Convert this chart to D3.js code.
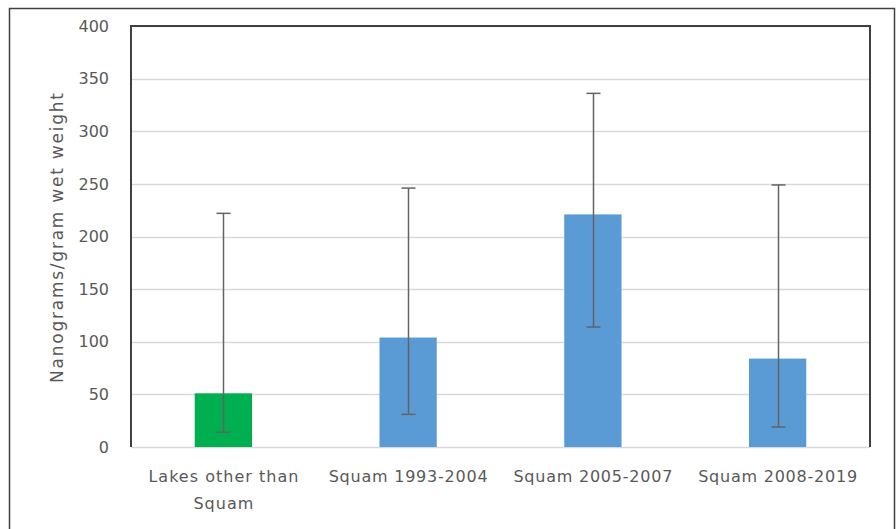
<!DOCTYPE html>
<html>
<head>
<meta charset="utf-8">
<script src="https://cdn.jsdelivr.net/npm/d3@7"></script>
<style>
    body { margin: 0; background: #fff; }
    #chart { font-family: "DejaVu Sans", sans-serif; }
</style>
</head>
<body>
<div id="chart"></div>
<script>
    var categories = ["Lakes other than Squam", "Squam 1993-2004", "Squam 2005-2007", "Squam 2008-2019"];
    var meanValues = [51, 104, 221, 84];
    var errLow = [14, 31, 114, 19];
    var errHigh = [222, 246, 336, 249];
    var barColors = ["#00B050", "#5B9BD5", "#5B9BD5", "#5B9BD5"];
    var yTicks = [0, 50, 100, 150, 200, 250, 300, 350, 400];

    var W = 896, H = 529;
    var margin = { top: 26, right: 26, bottom: 82, left: 131 },
        width = W - margin.left - margin.right,
        height = H - margin.top - margin.bottom;

    var svg = d3.select("#chart").append("svg")
        .attr("width", W)
        .attr("height", H);

    // outer frame
    svg.append("rect")
        .attr("x", 9.5).attr("y", 8.5)
        .attr("width", 885).attr("height", 530)
        .attr("fill", "none")
        .attr("stroke", "#404040")
        .attr("stroke-width", 1.5);

    var g = svg.append("g")
        .attr("transform", "translate(" + margin.left + "," + margin.top + ")");

    var xScale = d3.scaleBand()
        .domain(categories)
        .range([0, width])
        .paddingInner(0.69)
        .paddingOuter(0.345);

    var yScale = d3.scaleLinear()
        .domain([0, 400])
        .range([height, 0]);

    // gridlines
    g.append("g")
        .selectAll("line")
        .data(yTicks)
        .enter()
        .append("line")
        .attr("x1", 0)
        .attr("x2", width)
        .attr("y1", function(d) { return Math.round(yScale(d)) + 0.5; })
        .attr("y2", function(d) { return Math.round(yScale(d)) + 0.5; })
        .style("stroke", "#D9D9D9")
        .style("stroke-width", "1.5px");

    var yAxis = d3.axisLeft(yScale)
        .tickValues(yTicks)
        .tickSize(0)
        .tickPadding(22);

    var yG = g.append("g").call(yAxis);
    yG.select(".domain").remove();
    yG.selectAll("text")
        .style("font-size", "16px")
        .style("fill", "#595959")
        .style("font-family", "'DejaVu Sans', sans-serif");

    // bars
    g.selectAll(".bar")
        .data(categories)
        .enter()
        .append("rect")
        .attr("class", "bar")
        .attr("x", function(d) { return xScale(d); })
        .attr("width", xScale.bandwidth())
        .attr("y", function(d, i) { return yScale(meanValues[i]); })
        .attr("height", function(d, i) { return height - yScale(meanValues[i]); })
        .attr("fill", function(d, i) { return barColors[i]; });

    // error bars
    var errG = g.append("g")
        .style("stroke", "#636363")
        .style("stroke-width", "1.5px");
    categories.forEach(function(c, i) {
        var cx = Math.round(xScale(c) + xScale.bandwidth() / 2) + 0.5;
        errG.append("line")
            .attr("x1", cx).attr("x2", cx)
            .attr("y1", yScale(errLow[i])).attr("y2", yScale(errHigh[i]));
        [errLow[i], errHigh[i]].forEach(function(v) {
            errG.append("line")
                .attr("x1", cx - 7).attr("x2", cx + 7)
                .attr("y1", yScale(v)).attr("y2", yScale(v));
        });
    });

    // plot frame: dark left, top, right
    g.append("path")
        .attr("d", "M0," + height + "V0H" + width + "V" + height)
        .attr("fill", "none")
        .style("stroke", "#404040")
        .style("stroke-width", "2px");

    // x labels
    var xLabels = g.append("g")
        .attr("transform", "translate(0," + height + ")");
    var labelLines = {
        "Lakes other than Squam": [["Lakes other than", 150], ["Squam", 60]]
    };
    categories.forEach(function(c) {
        var lines = labelLines[c] || [[c, 159]];
        var cx = xScale(c) + xScale.bandwidth() / 2;
        lines.forEach(function(l, k) {
            xLabels.append("text")
                .attr("x", cx)
                .attr("y", 35 + k * 27)
                .attr("text-anchor", "middle")
                .attr("textLength", l[1])
                .attr("lengthAdjust", "spacing")
                .style("font-size", "16px")
                .style("fill", "#595959")
                .text(l[0]);
        });
    });

    // y axis title
    svg.append("text")
        .attr("transform", "translate(63," + 238 + ") rotate(-90)")
        .attr("text-anchor", "middle")
        .attr("textLength", 290)
        .attr("lengthAdjust", "spacing")
        .style("font-size", "17px")
        .style("fill", "#595959")
        .text("Nanograms/gram wet weight");
</script>
</body>
</html>
